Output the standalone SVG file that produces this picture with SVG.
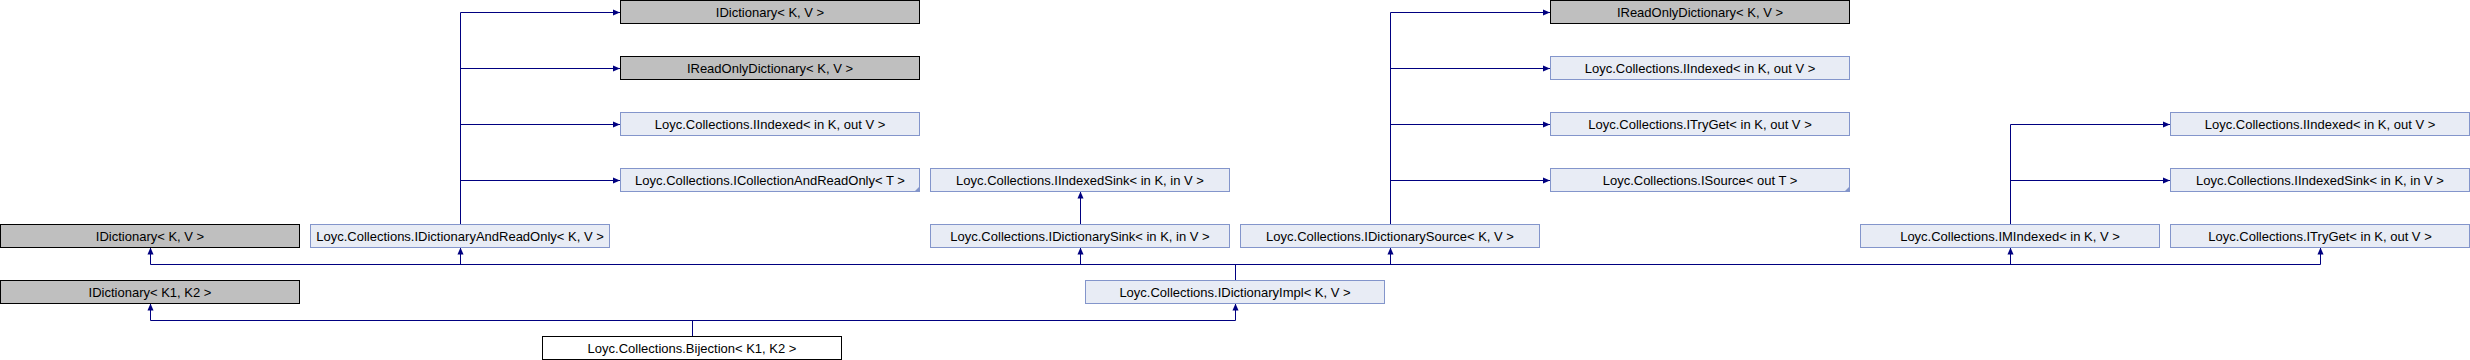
<svg xmlns="http://www.w3.org/2000/svg" width="2470" height="360" viewBox="0 0 2470 360">
<style>
  .ext rect { fill: #bfbfbf; stroke: #000000; stroke-width: 1; }
  .cls rect { fill: #e8ecf5; stroke: #8395cb; stroke-width: 1; }
  .main rect { fill: #ffffff; stroke: #000000; stroke-width: 1; }
  .fold { fill: #8395cb; }
  text { font-family: "Liberation Sans", Arial, sans-serif; font-size: 13px; fill: #000000; text-anchor: middle; }
  .edges path { fill: none; stroke: #000080; stroke-width: 1; }
</style>
<defs>
  <marker id="arr" viewBox="0 0 8 8" refX="7" refY="4" markerWidth="8" markerHeight="8" markerUnits="userSpaceOnUse" orient="auto">
    <path d="M0,1 L7,4 L0,7 Z" fill="#000080"/>
  </marker>
</defs>

<g class="edges" id="connectors">
  <!-- IDictionaryAndReadOnly to its parents -->
  <path d="M460.5,224 V12.5 H620" marker-end="url(#arr)"/>
  <path d="M460.5,68.5 H620" marker-end="url(#arr)"/>
  <path d="M460.5,124.5 H620" marker-end="url(#arr)"/>
  <path d="M460.5,180.5 H620" marker-end="url(#arr)"/>
  <!-- IDictionarySource to its parents -->
  <path d="M1390.5,224 V12.5 H1550" marker-end="url(#arr)"/>
  <path d="M1390.5,68.5 H1550" marker-end="url(#arr)"/>
  <path d="M1390.5,124.5 H1550" marker-end="url(#arr)"/>
  <path d="M1390.5,180.5 H1550" marker-end="url(#arr)"/>
  <!-- IMIndexed to its parents -->
  <path d="M2010.5,224 V124.5 H2170" marker-end="url(#arr)"/>
  <path d="M2010.5,180.5 H2170" marker-end="url(#arr)"/>
  <!-- IDictionarySink to IIndexedSink -->
  <path d="M1080.5,224 V191.5" marker-end="url(#arr)"/>
  <!-- IDictionaryImpl bus -->
  <path d="M1235.5,280 V264.5"/>
  <path d="M150.5,264.5 H2320.5"/>
  <path d="M150.5,264.5 V247.5" marker-end="url(#arr)"/>
  <path d="M460.5,264.5 V247.5" marker-end="url(#arr)"/>
  <path d="M1080.5,264.5 V247.5" marker-end="url(#arr)"/>
  <path d="M1390.5,264.5 V247.5" marker-end="url(#arr)"/>
  <path d="M2010.5,264.5 V247.5" marker-end="url(#arr)"/>
  <path d="M2320.5,264.5 V247.5" marker-end="url(#arr)"/>
  <!-- Bijection bus -->
  <path d="M692.5,336 V320.5"/>
  <path d="M150.5,320.5 H1235.5"/>
  <path d="M150.5,320.5 V303.5" marker-end="url(#arr)"/>
  <path d="M1235.5,320.5 V303.5" marker-end="url(#arr)"/>
</g>

<g id="n_idict_top" class="ext"><rect x="620.5" y="0.5" width="299" height="23"/><text x="770" y="16.5">IDictionary&lt; K, V &gt;</text></g>
<g id="n_irodict_top" class="ext"><rect x="1550.5" y="0.5" width="299" height="23"/><text x="1700" y="16.5">IReadOnlyDictionary&lt; K, V &gt;</text></g>

<g id="n_irodict_1" class="ext"><rect x="620.5" y="56.5" width="299" height="23"/><text x="770" y="72.5">IReadOnlyDictionary&lt; K, V &gt;</text></g>
<g id="n_iindexed_1" class="cls"><rect x="1550.5" y="56.5" width="299" height="23"/><text x="1700" y="72.5">Loyc.Collections.IIndexed&lt; in K, out V &gt;</text></g>

<g id="n_iindexed_2a" class="cls"><rect x="620.5" y="112.5" width="299" height="23"/><text x="770" y="128.5">Loyc.Collections.IIndexed&lt; in K, out V &gt;</text></g>
<g id="n_itryget_2" class="cls"><rect x="1550.5" y="112.5" width="299" height="23"/><text x="1700" y="128.5">Loyc.Collections.ITryGet&lt; in K, out V &gt;</text></g>
<g id="n_iindexed_2b" class="cls"><rect x="2170.5" y="112.5" width="299" height="23"/><text x="2320" y="128.5">Loyc.Collections.IIndexed&lt; in K, out V &gt;</text></g>

<g id="n_icollro" class="cls"><rect x="620.5" y="168.5" width="299" height="23"/><path class="fold" d="M915,191 L920,191 L920,186 Z"/><text x="770" y="184.5">Loyc.Collections.ICollectionAndReadOnly&lt; T &gt;</text></g>
<g id="n_iindexedsink_a" class="cls"><rect x="930.5" y="168.5" width="299" height="23"/><text x="1080" y="184.5">Loyc.Collections.IIndexedSink&lt; in K, in V &gt;</text></g>
<g id="n_isource" class="cls"><rect x="1550.5" y="168.5" width="299" height="23"/><path class="fold" d="M1845,191 L1850,191 L1850,186 Z"/><text x="1700" y="184.5">Loyc.Collections.ISource&lt; out T &gt;</text></g>
<g id="n_iindexedsink_b" class="cls"><rect x="2170.5" y="168.5" width="299" height="23"/><text x="2320" y="184.5">Loyc.Collections.IIndexedSink&lt; in K, in V &gt;</text></g>

<g id="n_idict_left" class="ext"><rect x="0.5" y="224.5" width="299" height="23"/><text x="150" y="240.5">IDictionary&lt; K, V &gt;</text></g>
<g id="n_idictro" class="cls"><rect x="310.5" y="224.5" width="299" height="23"/><text x="460" y="240.5">Loyc.Collections.IDictionaryAndReadOnly&lt; K, V &gt;</text></g>
<g id="n_idictsink" class="cls"><rect x="930.5" y="224.5" width="299" height="23"/><text x="1080" y="240.5">Loyc.Collections.IDictionarySink&lt; in K, in V &gt;</text></g>
<g id="n_idictsource" class="cls"><rect x="1240.5" y="224.5" width="299" height="23"/><text x="1390" y="240.5">Loyc.Collections.IDictionarySource&lt; K, V &gt;</text></g>
<g id="n_imindexed" class="cls"><rect x="1860.5" y="224.5" width="299" height="23"/><text x="2010" y="240.5">Loyc.Collections.IMIndexed&lt; in K, V &gt;</text></g>
<g id="n_itryget_4" class="cls"><rect x="2170.5" y="224.5" width="299" height="23"/><text x="2320" y="240.5">Loyc.Collections.ITryGet&lt; in K, out V &gt;</text></g>

<g id="n_idict_k1k2" class="ext"><rect x="0.5" y="280.5" width="299" height="23"/><text x="150" y="296.5">IDictionary&lt; K1, K2 &gt;</text></g>
<g id="n_idictimpl" class="cls"><rect x="1085.5" y="280.5" width="299" height="23"/><text x="1235" y="296.5">Loyc.Collections.IDictionaryImpl&lt; K, V &gt;</text></g>

<g id="n_bijection" class="main"><rect x="542.5" y="336.5" width="299" height="23"/><text x="692" y="352.5">Loyc.Collections.Bijection&lt; K1, K2 &gt;</text></g>
</svg>
